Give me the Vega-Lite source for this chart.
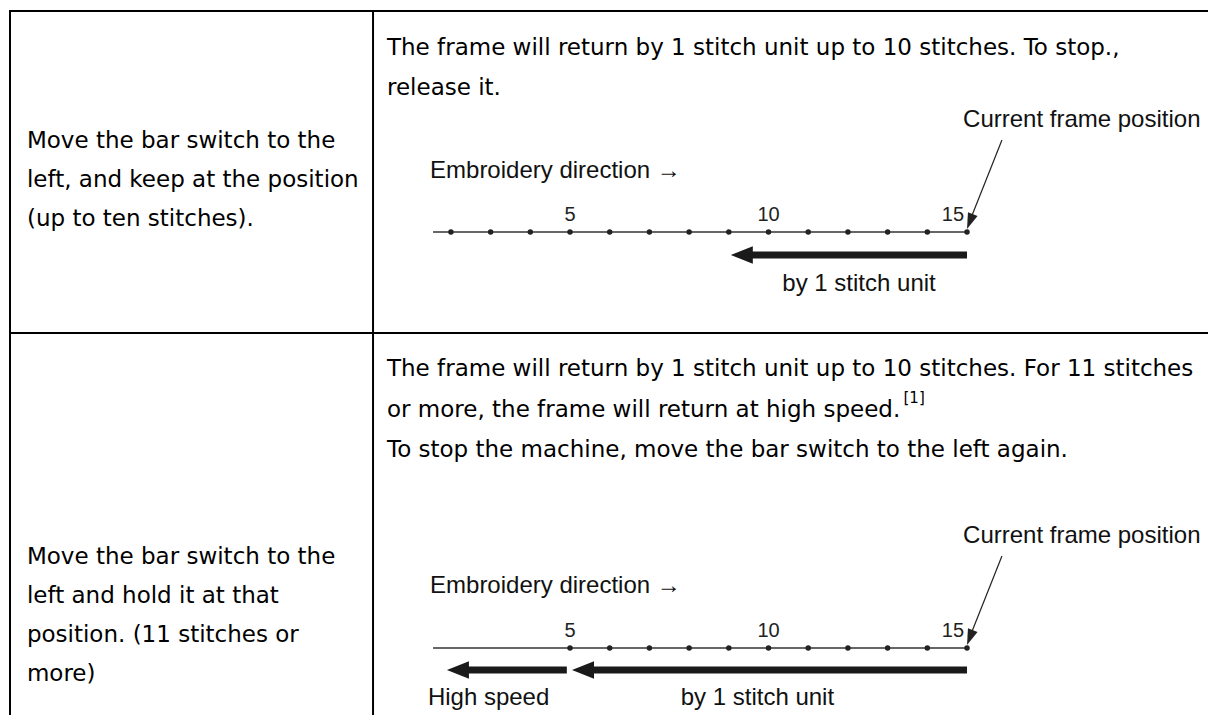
{
  "$schema": "https://vega.github.io/schema/vega-lite/v6.json",
  "width": 1208,
  "height": 715,
  "autosize": {"type": "none"},
  "padding": 0,
  "background": "white",
  "config": {"view": {"stroke": null}},
  "datasets": {
    "cells": [
      {"cell": "a1", "lines": ["Move the bar switch to the", "left, and keep at the position", "(up to ten stitches)."]},
      {"cell": "b1", "lines": ["The frame will return by 1 stitch unit up to 10 stitches. To stop.,", "release it."]},
      {"cell": "a2", "lines": ["Move the bar switch to the", "left and hold it at that", "position. (11 stitches or", "more)"]},
      {"cell": "b2", "lines": ["The frame will return by 1 stitch unit up to 10 stitches. For 11 stitches", "or more, the frame will return at high speed.", "To stop the machine, move the bar switch to the left again."]},
      {"cell": "fn", "lines": ["[1]"]}
    ],
    "stitches": [
      {"diagram": 1, "stitch": 2}, {"diagram": 1, "stitch": 3}, {"diagram": 1, "stitch": 4}, {"diagram": 1, "stitch": 5},
      {"diagram": 1, "stitch": 6}, {"diagram": 1, "stitch": 7}, {"diagram": 1, "stitch": 8}, {"diagram": 1, "stitch": 9},
      {"diagram": 1, "stitch": 10}, {"diagram": 1, "stitch": 11}, {"diagram": 1, "stitch": 12}, {"diagram": 1, "stitch": 13},
      {"diagram": 1, "stitch": 14}, {"diagram": 1, "stitch": 15},
      {"diagram": 2, "stitch": 5}, {"diagram": 2, "stitch": 6}, {"diagram": 2, "stitch": 7}, {"diagram": 2, "stitch": 8},
      {"diagram": 2, "stitch": 9}, {"diagram": 2, "stitch": 10}, {"diagram": 2, "stitch": 11}, {"diagram": 2, "stitch": 12},
      {"diagram": 2, "stitch": 13}, {"diagram": 2, "stitch": 14}, {"diagram": 2, "stitch": 15}
    ],
    "ticks": [
      {"diagram": 1, "stitch": 5, "label": "5"}, {"diagram": 1, "stitch": 10, "label": "10"}, {"diagram": 1, "stitch": 15, "label": "15"},
      {"diagram": 2, "stitch": 5, "label": "5"}, {"diagram": 2, "stitch": 10, "label": "10"}, {"diagram": 2, "stitch": 15, "label": "15"}
    ],
    "arrows": [
      {"diagram": 1, "from": 15, "to": 9.05},
      {"diagram": 2, "from": 15, "to": 5.05},
      {"diagram": 2, "from": 4.92, "to": 1.9}
    ],
    "notes": [
      {"diagram": 1, "kind": "current", "text": "Current frame position"},
      {"diagram": 1, "kind": "direction", "text": "Embroidery direction →"},
      {"diagram": 1, "kind": "unit", "text": "by 1 stitch unit"},
      {"diagram": 2, "kind": "current", "text": "Current frame position"},
      {"diagram": 2, "kind": "direction", "text": "Embroidery direction →"},
      {"diagram": 2, "kind": "unit", "text": "by 1 stitch unit"},
      {"diagram": 2, "kind": "high", "text": "High speed"}
    ]
  },
  "layer": [
    {"data": {"values": [{}]}, "mark": {"type": "rule", "strokeWidth": 2, "color": "#000"},
     "encoding": {"x": {"datum": -9.106, "type": "quantitative", "scale": {"domain": [-9.358, 21.07], "nice": false, "zero": false}, "axis": null}, "x2": {"datum": 21.07},
                  "y": {"datum": 11, "type": "quantitative", "scale": {"domain": [0, 715], "reverse": true, "nice": false, "zero": false}, "axis": null}}},
    {"data": {"values": [{}]}, "mark": {"type": "rule", "strokeWidth": 2, "color": "#000"},
     "encoding": {"x": {"datum": -9.106, "type": "quantitative", "scale": {"domain": [-9.358, 21.07], "nice": false, "zero": false}, "axis": null},
                  "y": {"datum": 10, "type": "quantitative", "scale": {"domain": [0, 715], "reverse": true, "nice": false, "zero": false}, "axis": null}, "y2": {"datum": 715}}},
    {"data": {"values": [{}]}, "mark": {"type": "rule", "strokeWidth": 2, "color": "#000"},
     "encoding": {"x": {"datum": 0.038, "type": "quantitative", "scale": {"domain": [-9.358, 21.07], "nice": false, "zero": false}, "axis": null},
                  "y": {"datum": 10, "type": "quantitative", "scale": {"domain": [0, 715], "reverse": true, "nice": false, "zero": false}, "axis": null}, "y2": {"datum": 715}}},
    {"data": {"values": [{}]}, "mark": {"type": "rule", "strokeWidth": 2, "color": "#000"},
     "encoding": {"x": {"datum": -9.106, "type": "quantitative", "scale": {"domain": [-9.358, 21.07], "nice": false, "zero": false}, "axis": null}, "x2": {"datum": 21.07},
                  "y": {"datum": 333, "type": "quantitative", "scale": {"domain": [0, 715], "reverse": true, "nice": false, "zero": false}, "axis": null}}},

    {"data": {"name": "cells"}, "transform": [{"filter": "datum.cell === 'a1'"}],
     "mark": {"type": "text", "font": "DejaVu Sans", "fontSize": 23, "align": "left", "baseline": "middle", "lineHeight": 39, "color": "#000"},
     "encoding": {"x": {"datum": -8.68, "type": "quantitative", "scale": {"domain": [-9.358, 21.07], "nice": false, "zero": false}, "axis": null},
                  "y": {"datum": 141, "type": "quantitative", "scale": {"domain": [0, 715], "reverse": true, "nice": false, "zero": false}, "axis": null},
                  "text": {"field": "lines"}}},
    {"data": {"name": "cells"}, "transform": [{"filter": "datum.cell === 'b1'"}],
     "mark": {"type": "text", "font": "DejaVu Sans", "fontSize": 23, "align": "left", "baseline": "middle", "lineHeight": 40, "color": "#000"},
     "encoding": {"x": {"datum": 0.39, "type": "quantitative", "scale": {"domain": [-9.358, 21.07], "nice": false, "zero": false}, "axis": null},
                  "y": {"datum": 48, "type": "quantitative", "scale": {"domain": [0, 715], "reverse": true, "nice": false, "zero": false}, "axis": null},
                  "text": {"field": "lines"}}},
    {"data": {"name": "cells"}, "transform": [{"filter": "datum.cell === 'a2'"}],
     "mark": {"type": "text", "font": "DejaVu Sans", "fontSize": 23, "align": "left", "baseline": "middle", "lineHeight": 39, "color": "#000"},
     "encoding": {"x": {"datum": -8.68, "type": "quantitative", "scale": {"domain": [-9.358, 21.07], "nice": false, "zero": false}, "axis": null},
                  "y": {"datum": 557, "type": "quantitative", "scale": {"domain": [0, 715], "reverse": true, "nice": false, "zero": false}, "axis": null},
                  "text": {"field": "lines"}}},
    {"data": {"name": "cells"}, "transform": [{"filter": "datum.cell === 'b2'"}],
     "mark": {"type": "text", "font": "DejaVu Sans", "fontSize": 23, "align": "left", "baseline": "middle", "lineHeight": 40.5, "color": "#000"},
     "encoding": {"x": {"datum": 0.39, "type": "quantitative", "scale": {"domain": [-9.358, 21.07], "nice": false, "zero": false}, "axis": null},
                  "y": {"datum": 369, "type": "quantitative", "scale": {"domain": [0, 715], "reverse": true, "nice": false, "zero": false}, "axis": null},
                  "text": {"field": "lines"}}},
    {"data": {"name": "cells"}, "transform": [{"filter": "datum.cell === 'fn'"}],
     "mark": {"type": "text", "font": "DejaVu Sans", "fontSize": 15, "align": "left", "baseline": "middle", "color": "#000"},
     "encoding": {"x": {"datum": 13.4, "type": "quantitative", "scale": {"domain": [-9.358, 21.07], "nice": false, "zero": false}, "axis": null},
                  "y": {"datum": 398, "type": "quantitative", "scale": {"domain": [0, 715], "reverse": true, "nice": false, "zero": false}, "axis": null},
                  "text": {"field": "lines"}}},

    {"data": {"values": [{}]}, "mark": {"type": "rule", "strokeWidth": 1.5, "color": "#333"},
     "encoding": {"x": {"datum": 1.55, "type": "quantitative", "scale": {"domain": [-9.358, 21.07], "nice": false, "zero": false}, "axis": null}, "x2": {"datum": 15},
                  "y": {"datum": 232, "type": "quantitative", "scale": {"domain": [0, 715], "reverse": true, "nice": false, "zero": false}, "axis": null}}},
    {"data": {"values": [{}]}, "mark": {"type": "rule", "strokeWidth": 1.5, "color": "#333"},
     "encoding": {"x": {"datum": 1.55, "type": "quantitative", "scale": {"domain": [-9.358, 21.07], "nice": false, "zero": false}, "axis": null}, "x2": {"datum": 15},
                  "y": {"datum": 648, "type": "quantitative", "scale": {"domain": [0, 715], "reverse": true, "nice": false, "zero": false}, "axis": null}}},

    {"data": {"name": "stitches"}, "transform": [{"filter": "datum.diagram === 1"}],
     "mark": {"type": "point", "filled": true, "size": 30, "color": "#222", "opacity": 1},
     "encoding": {"x": {"field": "stitch", "type": "quantitative", "scale": {"domain": [-9.358, 21.07], "nice": false, "zero": false}, "axis": null},
                  "y": {"datum": 232, "type": "quantitative", "scale": {"domain": [0, 715], "reverse": true, "nice": false, "zero": false}, "axis": null}}},
    {"data": {"name": "stitches"}, "transform": [{"filter": "datum.diagram === 2"}],
     "mark": {"type": "point", "filled": true, "size": 30, "color": "#222", "opacity": 1},
     "encoding": {"x": {"field": "stitch", "type": "quantitative", "scale": {"domain": [-9.358, 21.07], "nice": false, "zero": false}, "axis": null},
                  "y": {"datum": 648, "type": "quantitative", "scale": {"domain": [0, 715], "reverse": true, "nice": false, "zero": false}, "axis": null}}},

    {"data": {"name": "ticks"}, "transform": [{"filter": "datum.diagram === 1 && datum.stitch < 15"}],
     "mark": {"type": "text", "font": "Liberation Sans", "fontSize": 20, "align": "center", "baseline": "middle", "color": "#222"},
     "encoding": {"x": {"field": "stitch", "type": "quantitative", "scale": {"domain": [-9.358, 21.07], "nice": false, "zero": false}, "axis": null},
                  "y": {"datum": 215, "type": "quantitative", "scale": {"domain": [0, 715], "reverse": true, "nice": false, "zero": false}, "axis": null},
                  "text": {"field": "label"}}},
    {"data": {"name": "ticks"}, "transform": [{"filter": "datum.diagram === 1 && datum.stitch === 15"}],
     "mark": {"type": "text", "font": "Liberation Sans", "fontSize": 20, "align": "right", "baseline": "middle", "dx": -3, "color": "#222"},
     "encoding": {"x": {"field": "stitch", "type": "quantitative", "scale": {"domain": [-9.358, 21.07], "nice": false, "zero": false}, "axis": null},
                  "y": {"datum": 215, "type": "quantitative", "scale": {"domain": [0, 715], "reverse": true, "nice": false, "zero": false}, "axis": null},
                  "text": {"field": "label"}}},
    {"data": {"name": "ticks"}, "transform": [{"filter": "datum.diagram === 2 && datum.stitch < 15"}],
     "mark": {"type": "text", "font": "Liberation Sans", "fontSize": 20, "align": "center", "baseline": "middle", "color": "#222"},
     "encoding": {"x": {"field": "stitch", "type": "quantitative", "scale": {"domain": [-9.358, 21.07], "nice": false, "zero": false}, "axis": null},
                  "y": {"datum": 631, "type": "quantitative", "scale": {"domain": [0, 715], "reverse": true, "nice": false, "zero": false}, "axis": null},
                  "text": {"field": "label"}}},
    {"data": {"name": "ticks"}, "transform": [{"filter": "datum.diagram === 2 && datum.stitch === 15"}],
     "mark": {"type": "text", "font": "Liberation Sans", "fontSize": 20, "align": "right", "baseline": "middle", "dx": -3, "color": "#222"},
     "encoding": {"x": {"field": "stitch", "type": "quantitative", "scale": {"domain": [-9.358, 21.07], "nice": false, "zero": false}, "axis": null},
                  "y": {"datum": 631, "type": "quantitative", "scale": {"domain": [0, 715], "reverse": true, "nice": false, "zero": false}, "axis": null},
                  "text": {"field": "label"}}},

    {"data": {"name": "arrows"}, "transform": [{"filter": "datum.diagram === 1"}],
     "mark": {"type": "rule", "strokeWidth": 7, "color": "#1a1a1a", "strokeCap": "butt", "x2Offset": 14},
     "encoding": {"x": {"field": "from", "type": "quantitative", "scale": {"domain": [-9.358, 21.07], "nice": false, "zero": false}, "axis": null}, "x2": {"field": "to"},
                  "y": {"datum": 255, "type": "quantitative", "scale": {"domain": [0, 715], "reverse": true, "nice": false, "zero": false}, "axis": null}}},
    {"data": {"name": "arrows"}, "transform": [{"filter": "datum.diagram === 1"}],
     "mark": {"type": "point", "filled": true, "opacity": 1, "color": "#1a1a1a", "shape": "M0,0L1,-0.4L1,0.4Z", "size": 1936},
     "encoding": {"x": {"field": "to", "type": "quantitative", "scale": {"domain": [-9.358, 21.07], "nice": false, "zero": false}, "axis": null},
                  "y": {"datum": 255, "type": "quantitative", "scale": {"domain": [0, 715], "reverse": true, "nice": false, "zero": false}, "axis": null}}},
    {"data": {"name": "arrows"}, "transform": [{"filter": "datum.diagram === 2"}],
     "mark": {"type": "rule", "strokeWidth": 7, "color": "#1a1a1a", "strokeCap": "butt", "x2Offset": 14},
     "encoding": {"x": {"field": "from", "type": "quantitative", "scale": {"domain": [-9.358, 21.07], "nice": false, "zero": false}, "axis": null}, "x2": {"field": "to"},
                  "y": {"datum": 670, "type": "quantitative", "scale": {"domain": [0, 715], "reverse": true, "nice": false, "zero": false}, "axis": null}}},
    {"data": {"name": "arrows"}, "transform": [{"filter": "datum.diagram === 2"}],
     "mark": {"type": "point", "filled": true, "opacity": 1, "color": "#1a1a1a", "shape": "M0,0L1,-0.4L1,0.4Z", "size": 1936},
     "encoding": {"x": {"field": "to", "type": "quantitative", "scale": {"domain": [-9.358, 21.07], "nice": false, "zero": false}, "axis": null},
                  "y": {"datum": 670, "type": "quantitative", "scale": {"domain": [0, 715], "reverse": true, "nice": false, "zero": false}, "axis": null}}},

    {"data": {"values": [{}]}, "mark": {"type": "rule", "strokeWidth": 1.2, "color": "#222"},
     "encoding": {"x": {"datum": 15.88, "type": "quantitative", "scale": {"domain": [-9.358, 21.07], "nice": false, "zero": false}, "axis": null}, "x2": {"datum": 15.08},
                  "y": {"datum": 140, "type": "quantitative", "scale": {"domain": [0, 715], "reverse": true, "nice": false, "zero": false}, "axis": null}, "y2": {"datum": 220}}},
    {"data": {"values": [{}]}, "mark": {"type": "point", "filled": true, "opacity": 1, "color": "#222", "shape": "M0,0L-0.32,-1L0.32,-1Z", "size": 1024, "angle": 21},
     "encoding": {"x": {"datum": 15.0, "type": "quantitative", "scale": {"domain": [-9.358, 21.07], "nice": false, "zero": false}, "axis": null},
                  "y": {"datum": 229, "type": "quantitative", "scale": {"domain": [0, 715], "reverse": true, "nice": false, "zero": false}, "axis": null}}},
    {"data": {"values": [{}]}, "mark": {"type": "rule", "strokeWidth": 1.2, "color": "#222"},
     "encoding": {"x": {"datum": 15.88, "type": "quantitative", "scale": {"domain": [-9.358, 21.07], "nice": false, "zero": false}, "axis": null}, "x2": {"datum": 15.08},
                  "y": {"datum": 556, "type": "quantitative", "scale": {"domain": [0, 715], "reverse": true, "nice": false, "zero": false}, "axis": null}, "y2": {"datum": 636}}},
    {"data": {"values": [{}]}, "mark": {"type": "point", "filled": true, "opacity": 1, "color": "#222", "shape": "M0,0L-0.32,-1L0.32,-1Z", "size": 1024, "angle": 21},
     "encoding": {"x": {"datum": 15.0, "type": "quantitative", "scale": {"domain": [-9.358, 21.07], "nice": false, "zero": false}, "axis": null},
                  "y": {"datum": 645, "type": "quantitative", "scale": {"domain": [0, 715], "reverse": true, "nice": false, "zero": false}, "axis": null}}},

    {"data": {"name": "notes"}, "transform": [{"filter": "datum.diagram === 1 && datum.kind === 'current'"}],
     "mark": {"type": "text", "font": "Liberation Sans", "fontSize": 24, "align": "left", "baseline": "middle", "color": "#111"},
     "encoding": {"x": {"datum": 14.9, "type": "quantitative", "scale": {"domain": [-9.358, 21.07], "nice": false, "zero": false}, "axis": null},
                  "y": {"datum": 120, "type": "quantitative", "scale": {"domain": [0, 715], "reverse": true, "nice": false, "zero": false}, "axis": null},
                  "text": {"field": "text"}}},
    {"data": {"name": "notes"}, "transform": [{"filter": "datum.diagram === 2 && datum.kind === 'current'"}],
     "mark": {"type": "text", "font": "Liberation Sans", "fontSize": 24, "align": "left", "baseline": "middle", "color": "#111"},
     "encoding": {"x": {"datum": 14.9, "type": "quantitative", "scale": {"domain": [-9.358, 21.07], "nice": false, "zero": false}, "axis": null},
                  "y": {"datum": 536, "type": "quantitative", "scale": {"domain": [0, 715], "reverse": true, "nice": false, "zero": false}, "axis": null},
                  "text": {"field": "text"}}},
    {"data": {"name": "notes"}, "transform": [{"filter": "datum.diagram === 1 && datum.kind === 'direction'"}],
     "mark": {"type": "text", "font": "Liberation Sans", "fontSize": 24, "align": "left", "baseline": "middle", "color": "#111"},
     "encoding": {"x": {"datum": 1.474, "type": "quantitative", "scale": {"domain": [-9.358, 21.07], "nice": false, "zero": false}, "axis": null},
                  "y": {"datum": 171, "type": "quantitative", "scale": {"domain": [0, 715], "reverse": true, "nice": false, "zero": false}, "axis": null},
                  "text": {"field": "text"}}},
    {"data": {"name": "notes"}, "transform": [{"filter": "datum.diagram === 2 && datum.kind === 'direction'"}],
     "mark": {"type": "text", "font": "Liberation Sans", "fontSize": 24, "align": "left", "baseline": "middle", "color": "#111"},
     "encoding": {"x": {"datum": 1.474, "type": "quantitative", "scale": {"domain": [-9.358, 21.07], "nice": false, "zero": false}, "axis": null},
                  "y": {"datum": 586, "type": "quantitative", "scale": {"domain": [0, 715], "reverse": true, "nice": false, "zero": false}, "axis": null},
                  "text": {"field": "text"}}},
    {"data": {"name": "notes"}, "transform": [{"filter": "datum.diagram === 1 && datum.kind === 'unit'"}],
     "mark": {"type": "text", "font": "Liberation Sans", "fontSize": 24, "align": "center", "baseline": "middle", "color": "#111"},
     "encoding": {"x": {"datum": 12.28, "type": "quantitative", "scale": {"domain": [-9.358, 21.07], "nice": false, "zero": false}, "axis": null},
                  "y": {"datum": 284, "type": "quantitative", "scale": {"domain": [0, 715], "reverse": true, "nice": false, "zero": false}, "axis": null},
                  "text": {"field": "text"}}},
    {"data": {"name": "notes"}, "transform": [{"filter": "datum.diagram === 2 && datum.kind === 'unit'"}],
     "mark": {"type": "text", "font": "Liberation Sans", "fontSize": 24, "align": "center", "baseline": "middle", "color": "#111"},
     "encoding": {"x": {"datum": 9.72, "type": "quantitative", "scale": {"domain": [-9.358, 21.07], "nice": false, "zero": false}, "axis": null},
                  "y": {"datum": 698, "type": "quantitative", "scale": {"domain": [0, 715], "reverse": true, "nice": false, "zero": false}, "axis": null},
                  "text": {"field": "text"}}},
    {"data": {"name": "notes"}, "transform": [{"filter": "datum.diagram === 2 && datum.kind === 'high'"}],
     "mark": {"type": "text", "font": "Liberation Sans", "fontSize": 24, "align": "left", "baseline": "middle", "color": "#111"},
     "encoding": {"x": {"datum": 1.42, "type": "quantitative", "scale": {"domain": [-9.358, 21.07], "nice": false, "zero": false}, "axis": null},
                  "y": {"datum": 698, "type": "quantitative", "scale": {"domain": [0, 715], "reverse": true, "nice": false, "zero": false}, "axis": null},
                  "text": {"field": "text"}}}
  ]
}
